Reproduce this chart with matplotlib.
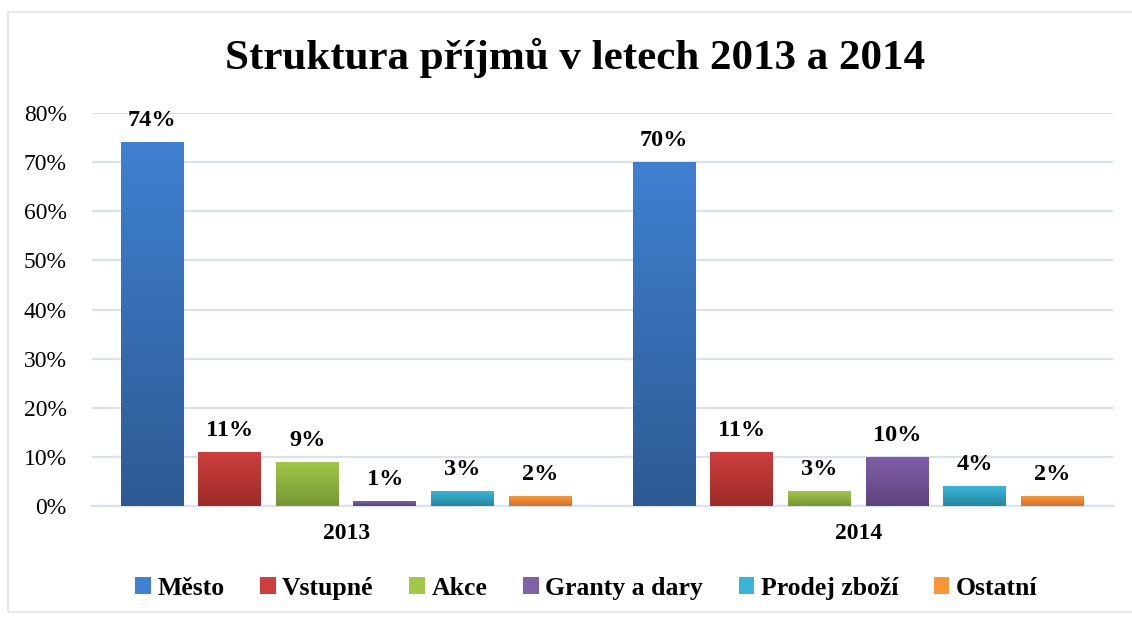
import numpy as np
import matplotlib
matplotlib.use('Agg')
import matplotlib.pyplot as plt
from matplotlib.colors import LinearSegmentedColormap
from matplotlib.patches import Rectangle

plt.rcParams['font.family'] = ['Liberation Serif', 'DejaVu Serif']

# data
years = ['2013', '2014']
series = ['Město', 'Vstupné', 'Akce', 'Granty a dary', 'Prodej zboží', 'Ostatní']
values = {
    'Město': [74, 70],
    'Vstupné': [11, 11],
    'Akce': [9, 3],
    'Granty a dary': [1, 10],
    'Prodej zboží': [3, 4],
    'Ostatní': [2, 2],
}
# (top colour, bottom colour) for the gradient fill
colors = {
    'Město': ('#3F80D1', '#2D5A93'),
    'Vstupné': ('#CE3F3C', '#9C2B29'),
    'Akce': ('#A0C84A', '#779634'),
    'Granty a dary': ('#8060A8', '#5C437D'),
    'Prodej zboží': ('#38B5D8', '#27879F'),
    'Ostatní': ('#F99637', '#D5712A'),
}

fig = plt.figure(figsize=(11.32, 6.19), dpi=100)
ax = fig.add_axes([0.081, 0.1826, 0.902, 0.6348])

# light frame round the chart
fig.patches.append(Rectangle((0.007, 0.012), 1.1, 0.968, transform=fig.transFigure,
                             fill=False, edgecolor='#E4E4E4', linewidth=1.2))

x = np.arange(len(years))
width = 0.123
step = 0.1515
offsets = (np.arange(len(series)) - (len(series) - 1) / 2) * step

ax.set_xlim(-0.497, 1.497)
ax.set_ylim(0, 80)

for i, name in enumerate(series):
    vals = values[name]
    top, bottom = colors[name]
    bars = ax.bar(x + offsets[i], vals, width, color=top, zorder=3, label=name)
    cmap = LinearSegmentedColormap.from_list(name, [bottom, top])
    grad = np.linspace(0, 1, 256).reshape(-1, 1)
    for b, v in zip(bars, vals):
        x0, y0 = b.get_x(), b.get_y()
        im = ax.imshow(grad, cmap=cmap, origin='lower', aspect='auto',
                       extent=[x0, x0 + b.get_width(), y0, y0 + b.get_height()],
                       zorder=3)
        im.set_clip_path(b)
        b.set_facecolor('none')
        b.set_edgecolor('none')
        ax.text(b.get_x() + b.get_width() / 2, v + 3.3, f'{v}%', ha='center', va='baseline',
                fontsize=17.5, fontweight='bold', zorder=4)

ax.set_yticks(np.arange(0, 81, 10))
ax.set_yticklabels([f'{t}%' for t in range(0, 81, 10)], fontsize=17)
ax.set_xticks(x)
ax.set_xticklabels(years, fontsize=17, fontweight='bold')
ax.tick_params(axis='both', length=0)
ax.tick_params(axis='y', pad=18)
ax.tick_params(axis='x', pad=12)
ax.grid(axis='y', color='#D9E3F0', linewidth=1.6, zorder=0)
for s in ['top', 'right', 'left']:
    ax.spines[s].set_visible(False)
ax.spines['bottom'].set_color('#D9E3F0')
ax.spines['bottom'].set_linewidth(1.6)

fig.text(0.508, 0.888, 'Struktura příjmů v letech 2013 a 2014', ha='center', va='baseline',
         fontsize=31, fontweight='bold')

handles = [Rectangle((0, 0), 1, 1, facecolor=colors[n][0]) for n in series]
fig.legend(handles, series, loc='center', bbox_to_anchor=(0.518, 0.05), ncol=6,
           frameon=False, prop={'size': 18.5, 'weight': 'bold'},
           handlelength=0.6, handleheight=0.6, handletextpad=0.25, columnspacing=1.4)

fig.savefig('out.png', dpi=100)
